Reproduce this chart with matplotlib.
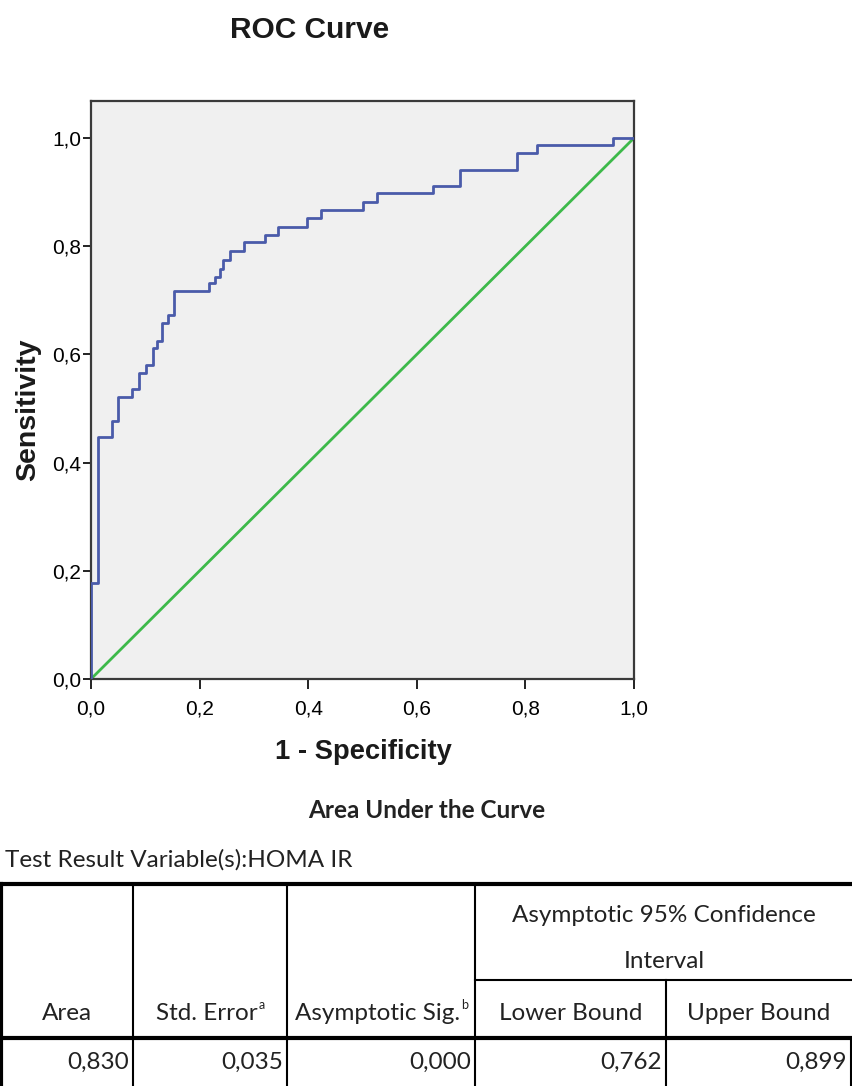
import matplotlib
matplotlib.use("Agg")
import matplotlib.pyplot as plt

# ---- data ----
fpr = [0.0, 0.012, 0.038, 0.050, 0.076, 0.088, 0.102, 0.115, 0.122, 0.130,
       0.142, 0.153, 0.218, 0.228, 0.237, 0.244, 0.256, 0.281, 0.320, 0.345,
       0.397, 0.424, 0.501, 0.526, 0.629, 0.680, 0.784, 0.821, 0.962, 1.0]
tpr = [0.0, 0.177, 0.447, 0.477, 0.521, 0.536, 0.566, 0.580, 0.612, 0.625,
       0.658, 0.673, 0.717, 0.732, 0.743, 0.758, 0.775, 0.791, 0.807, 0.821,
       0.836, 0.852, 0.867, 0.882, 0.898, 0.912, 0.941, 0.972, 0.987, 1.0]
ref_line = [0.0, 1.0]
ticks = [0.0, 0.2, 0.4, 0.6, 0.8, 1.0]
tick_labels = ["0,0", "0,2", "0,4", "0,6", "0,8", "1,0"]

table_title = "Area Under the Curve"
table_note = "Test Result Variable(s):HOMA IR"
group_header = ["Asymptotic 95% Confidence", "Interval"]
col_headers = ["Area", "Std. Error", "Asymptotic Sig.", "Lower Bound", "Upper Bound"]
col_sups = ["", "a", "b", "", ""]
row_values = ["0,830", "0,035", "0,000", "0,762", "0,899"]

W, H = 853, 1086
fig = plt.figure(figsize=(W / 100, H / 100), dpi=100)
fig.patch.set_facecolor("white")

FONT = "Liberation Sans"
TFONT = "Lato"
TSIZE = 17.5

# ---- ROC axes ----
ax = fig.add_axes([91 / W, 1 - 679 / H, 543 / W, 578 / H])
ax.set_facecolor("#F0F0F0")
ax.plot(fpr, tpr, drawstyle="steps-pre", color="#4A5BAA", lw=2.0, zorder=3)
ax.plot(ref_line, ref_line, color="#3DB94A", lw=2.0, zorder=2)
ax.set_xlim(0, 1)
ax.set_ylim(0, (679 - 101) / 541)
ax.set_xticks(ticks)
ax.set_xticklabels(tick_labels, fontfamily=FONT, fontsize=15)
ax.set_yticks(ticks)
ax.set_yticklabels(tick_labels, fontfamily=FONT, fontsize=15)
ax.tick_params(axis="x", direction="out", length=7, width=1.4, color="#222222", pad=8)
ax.tick_params(axis="y", direction="out", length=6, width=1.4, color="#222222", pad=1)
for s in ax.spines.values():
    s.set_color("#3a3a3a")
    s.set_linewidth(1.6)

def fx(x):
    return x / W

def fy(y):
    return 1 - y / H

fig.text(fx(310), fy(30), "ROC Curve", ha="center", va="center",
         fontfamily=FONT, fontweight="bold", fontsize=21.5, color="#1a1a1a")
fig.text(fx(363), fy(752), "1 - Specificity", ha="center", va="center",
         fontfamily=FONT, fontweight="bold", fontsize=19.7, color="#1a1a1a")
fig.text(fx(28), fy(410), "Sensitivity", ha="center", va="center", rotation=90,
         fontfamily=FONT, fontweight="bold", fontsize=20.5, color="#1a1a1a")

# ---- table overlay ----
tx = fig.add_axes([0, 0, 1, 1])
tx.set_xlim(0, W)
tx.set_ylim(H, 0)
tx.axis("off")

tx.text(427, 811, table_title, ha="center", va="center", fontfamily=TFONT,
        fontweight="bold", fontsize=TSIZE, color="#222222")
tx.text(5, 860, table_note, ha="left", va="center", fontfamily=TFONT,
        fontsize=TSIZE, color="#222222")

col_edges = [1, 133, 287, 475, 666, 851]
thick, thin = 3.0, 1.5
tx.plot([0, W], [884, 884], color="black", lw=thick)
tx.plot([0, W], [1038, 1038], color="black", lw=thick)
tx.plot([475, W], [980, 980], color="black", lw=thin)
tx.plot([col_edges[0], col_edges[0]], [884, H], color="black", lw=thick)
for xe in col_edges[1:4]:
    tx.plot([xe, xe], [884, H], color="black", lw=thin)
tx.plot([col_edges[4], col_edges[4]], [980, H], color="black", lw=thin)
tx.plot([col_edges[5], col_edges[5]], [1038, H], color="black", lw=thin)

tx.text((475 + W) / 2, 916, group_header[0], ha="center", va="center",
        fontfamily=TFONT, fontsize=TSIZE, color="#222222")
tx.text((475 + W) / 2, 961, group_header[1], ha="center", va="center",
        fontfamily=TFONT, fontsize=TSIZE, color="#222222")

fig.canvas.draw()
for i, (h, sup, v) in enumerate(zip(col_headers, col_sups, row_values)):
    x0, x1 = col_edges[i], col_edges[i + 1]
    cx = (x0 + x1) / 2 - (3 if sup else 0)
    t = tx.text(cx, 1014, h, ha="center", va="center",
                fontfamily=TFONT, fontsize=TSIZE, color="#222222")
    if sup:
        fig.canvas.draw()
        bb = t.get_window_extent()
        tx.text(cx + bb.width / 2 + 0.5, 1005, sup, ha="left",
                va="center", fontfamily=TFONT, fontsize=9, color="#222222")
    tx.text(x1 - 4, 1062, v, ha="right", va="center", fontfamily=TFONT,
            fontsize=TSIZE, color="#222222")

fig.savefig("out.png", dpi=100)
